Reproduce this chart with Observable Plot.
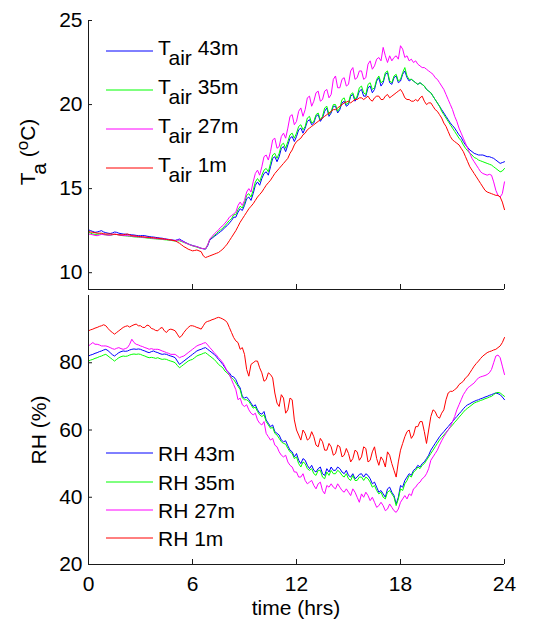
<!DOCTYPE html>
<html>
<head>
<meta charset="utf-8">
<script src="https://cdn.jsdelivr.net/npm/d3@7"></script>
<script src="https://cdn.jsdelivr.net/npm/@observablehq/plot@0.6"></script>
<style>
  html, body { margin: 0; padding: 0; background: #fff; }
  #chart { width: 546px; height: 620px; position: relative; }
  #chart svg { display: block; }
</style>
</head>
<body>
<div id="chart"></div>
<script>
// ---------- data (sampled every 0.125 h, 0..24 h; one row of 8 per hour) ----------
const timeStep = 0.125;
const xTicks = [0, 6, 12, 18, 24];
const tTicks = [10, 15, 20, 25];
const rhTicks = [20, 40, 60, 80];

const seriesNames = ["43m", "35m", "27m", "1m"];
const seriesColors = ["#0000ff", "#00ff00", "#ff00ff", "#ff0000"];

const tair43 = [
12.55,12.5,12.45,12.4,12.42,12.46,12.5,12.42,
12.38,12.35,12.33,12.36,12.42,12.4,12.35,12.32,
12.3,12.29,12.28,12.27,12.25,12.24,12.22,12.2,
12.2,12.21,12.2,12.17,12.15,12.13,12.12,12.1,
12.08,12.06,12.05,12.02,12.0,11.98,11.95,11.94,
11.92,11.96,12.0,11.92,11.85,11.78,11.72,11.66,
11.62,11.58,11.55,11.5,11.45,11.42,11.4,11.6,
11.95,12.05,12.15,12.25,12.35,12.45,12.55,12.7,
12.8,12.95,13.1,13.3,13.3,13.6,13.8,13.7,
14.0,14.4,14.5,14.3,14.7,15.2,15.4,15.2,
15.6,15.9,16.0,15.8,16.3,16.8,16.9,16.6,
16.9,17.4,17.5,17.2,17.6,18.0,18.1,17.8,
18.1,18.5,18.6,18.3,18.6,19.0,19.1,18.8,
18.9,19.3,19.4,19.0,19.2,19.6,19.8,19.3,
19.5,19.9,19.9,19.5,19.7,20.1,20.2,19.9,
20.0,20.5,20.6,20.2,20.4,20.8,20.9,20.5,
20.5,21.0,21.1,20.7,20.9,21.4,21.6,21.1,
21.3,21.8,21.9,21.3,21.2,21.6,21.7,21.3,
21.4,21.8,22.0,21.6,21.4,21.5,21.4,21.3,
21.2,21.3,21.2,21.1,20.9,20.8,20.7,20.5,
20.3,20.1,19.9,19.7,19.5,19.3,19.1,18.9,
18.75,18.6,18.4,18.2,18.05,17.8,17.6,17.45,
17.3,17.2,17.1,17.05,17.0,17.0,17.0,16.95,
16.9,16.9,16.85,16.8,16.7,16.6,16.5,16.55,
16.6];
const tair35 = [
12.4,12.35,12.3,12.28,12.28,12.3,12.3,12.27,
12.25,12.23,12.22,12.25,12.28,12.27,12.25,12.22,
12.2,12.19,12.18,12.16,12.15,12.13,12.12,12.11,
12.1,12.09,12.08,12.06,12.05,12.03,12.02,12.01,
12.0,11.99,11.98,11.96,11.95,11.93,11.92,11.9,
11.88,11.89,11.9,11.85,11.8,11.75,11.7,11.65,
11.6,11.56,11.52,11.48,11.45,11.43,11.42,11.65,
12.0,12.1,12.2,12.32,12.45,12.55,12.65,12.8,
12.95,13.1,13.2,13.45,13.45,13.75,13.95,13.85,
14.15,14.6,14.7,14.5,14.9,15.4,15.6,15.4,
15.8,16.1,16.2,16.0,16.5,17.0,17.1,16.8,
17.1,17.6,17.7,17.4,17.8,18.2,18.3,18.0,
18.3,18.7,18.8,18.5,18.7,19.2,19.3,18.9,
19.0,19.4,19.5,19.1,19.3,19.8,19.9,19.4,
19.6,20.0,20.0,19.6,19.8,20.3,20.4,20.0,
20.1,20.6,20.7,20.3,20.5,21.0,21.1,20.7,
20.6,21.2,21.3,20.9,21.0,21.5,21.7,21.3,
21.4,21.9,22.0,21.4,21.3,21.7,21.8,21.4,
21.5,21.9,22.2,21.7,21.5,21.5,21.4,21.3,
21.2,21.3,21.2,21.1,20.9,20.8,20.7,20.5,
20.3,20.1,19.9,19.6,19.4,19.2,19.0,18.8,
18.6,18.4,18.2,18.0,17.85,17.6,17.4,17.25,
17.1,17.0,16.85,16.8,16.7,16.65,16.6,16.55,
16.5,16.45,16.4,16.3,16.2,16.1,16.0,16.05,
16.2];
const tair27 = [
12.3,12.28,12.25,12.22,12.2,12.24,12.28,12.26,
12.25,12.23,12.22,12.26,12.3,12.28,12.25,12.23,
12.22,12.21,12.2,12.19,12.18,12.16,12.15,12.13,
12.12,12.11,12.1,12.09,12.08,12.06,12.05,12.03,
12.02,12.01,12.0,11.99,11.98,11.96,11.95,11.92,
11.9,11.93,11.95,11.88,11.82,11.76,11.7,11.65,
11.6,11.58,11.55,11.5,11.45,11.43,11.42,11.65,
12.0,12.15,12.3,12.42,12.55,12.7,12.8,12.95,
13.1,13.3,13.4,13.5,13.6,14.0,14.2,14.0,
14.3,14.8,15.0,14.8,15.4,15.9,16.1,15.8,
16.3,16.9,17.0,16.7,17.2,17.9,18.0,17.4,
17.5,18.1,18.3,18.0,18.6,19.3,19.4,18.8,
19.0,19.6,19.8,19.3,19.7,20.4,20.5,19.9,
20.2,20.7,20.8,20.2,20.3,20.8,20.9,20.4,
20.6,21.5,21.7,21.0,21.0,21.5,21.6,21.1,
21.2,22.0,22.2,21.5,21.6,22.0,22.0,21.5,
21.6,22.4,22.6,22.1,22.3,22.7,22.8,22.6,
23.4,22.9,22.5,22.9,22.6,22.8,22.9,22.7,
23.5,23.3,22.8,22.9,22.6,22.7,22.5,22.6,
22.4,22.3,22.2,22.2,22.1,22.0,21.9,21.8,
21.6,21.5,21.3,21.1,20.9,20.6,20.3,20.0,
19.7,19.3,19.0,18.6,18.3,18.0,17.7,17.4,
17.1,16.8,16.6,16.4,16.2,16.0,15.9,15.85,
15.8,15.85,15.8,15.4,14.9,14.6,14.5,14.7,
15.4];
const tair1 = [
12.45,12.42,12.4,12.38,12.35,12.35,12.35,12.32,
12.3,12.3,12.3,12.29,12.28,12.27,12.25,12.25,
12.25,12.28,12.3,12.25,12.2,12.19,12.18,12.16,
12.15,12.14,12.12,12.11,12.1,12.09,12.08,12.06,
12.05,12.03,12.02,12.0,11.98,11.96,11.95,11.92,
11.9,11.82,11.75,11.65,11.55,11.48,11.4,11.35,
11.3,11.32,11.35,11.3,11.25,11.0,10.9,10.95,
11.0,11.05,11.1,11.15,11.2,11.3,11.4,11.55,
11.7,11.9,12.1,12.3,12.5,12.75,13.0,13.2,
13.4,13.6,13.8,13.95,14.1,14.3,14.5,14.65,
14.8,15.0,15.2,15.35,15.5,15.7,15.9,16.05,
16.2,16.35,16.5,16.65,16.8,17.1,17.3,17.6,
17.8,17.9,18.0,18.2,18.3,18.5,18.6,18.7,
18.8,18.9,19.0,19.1,19.2,19.3,19.4,19.5,
19.6,19.7,19.7,19.8,19.9,20.0,20.1,20.15,
20.2,20.1,20.2,20.3,20.3,20.4,20.4,20.3,
20.4,20.5,20.3,20.2,20.4,20.5,20.5,20.3,
20.3,20.5,20.6,20.4,20.5,20.6,20.7,20.8,
20.9,20.7,20.4,20.3,20.3,20.2,20.2,20.3,
20.2,20.4,20.5,20.2,20.0,20.1,20.1,19.9,
19.7,19.6,19.4,19.2,18.9,18.7,18.4,18.1,
17.9,17.8,17.7,17.6,17.4,17.2,16.9,16.6,
16.3,16.1,15.9,15.7,15.5,15.3,15.1,14.9,
14.8,14.75,14.7,14.65,14.6,14.6,14.5,14.2,
13.75];

const rh43 = [
82.0,82.3,82.5,82.8,83.0,83.3,83.5,83.8,
84.0,83.6,83.0,82.4,82.0,82.5,83.0,83.3,
83.5,83.4,83.5,83.8,84.0,84.1,84.0,84.1,
84.0,83.7,83.5,83.2,83.0,83.3,83.5,83.2,
83.0,82.7,82.5,82.6,82.5,82.2,82.0,81.8,
81.5,80.5,79.5,80.0,80.5,81.0,81.5,82.0,
82.5,83.0,83.5,83.8,84.0,84.3,84.5,84.0,
83.5,83.0,82.5,81.8,81.0,80.3,79.5,78.5,
77.5,77.0,76.0,75.8,75.0,73.5,72.5,70.0,
69.5,69.8,69.0,68.0,67.0,67.5,66.0,65.0,
64.7,65.5,63.0,62.0,61.0,61.5,59.5,59.0,
58.5,57.0,56.5,56.8,55.3,54.0,53.5,52.0,
53.0,51.0,50.0,51.5,51.0,49.5,48.5,49.5,
48.0,47.5,48.5,49.0,47.0,46.5,48.5,47.5,
49.0,48.0,48.0,49.0,48.5,47.5,47.0,48.0,
46.5,46.0,47.0,45.5,46.0,46.8,47.0,46.0,
47.0,46.5,45.5,44.0,44.5,43.0,41.5,42.0,
41.0,40.0,42.5,43.0,41.5,40.5,38.0,40.0,
43.5,43.0,45.0,46.0,47.0,46.5,48.0,48.5,
49.5,49.0,50.0,50.5,51.5,52.5,54.0,55.0,
56.0,57.0,58.0,58.8,59.5,60.3,61.0,61.8,
62.5,63.3,64.0,64.8,65.5,66.3,67.0,67.5,
67.8,68.2,68.5,68.8,69.0,69.3,69.5,69.8,
70.0,70.3,70.5,70.8,71.0,70.8,70.5,69.8,
69.0];
const rh35 = [
80.5,80.8,81.0,81.3,81.5,81.8,82.0,82.3,
82.5,82.0,81.5,81.0,80.5,81.0,81.5,81.8,
82.0,81.9,82.0,82.3,82.5,82.6,82.5,82.6,
82.5,82.2,82.0,81.7,81.5,81.6,81.5,81.3,
81.5,81.2,81.0,81.1,81.0,80.7,80.5,80.3,
80.0,79.2,78.5,79.0,79.5,80.0,80.5,80.8,
81.0,81.5,82.0,82.3,82.5,82.8,83.0,82.5,
82.0,81.5,81.0,80.3,79.5,79.0,78.5,77.5,
77.0,76.3,75.5,75.0,74.0,73.0,72.0,69.5,
69.0,69.0,68.5,67.5,66.5,66.8,65.5,64.5,
64.0,64.5,62.5,61.5,60.5,60.8,59.0,58.5,
57.5,56.5,56.0,55.8,54.5,53.5,53.0,51.5,
52.0,50.0,49.0,50.5,50.0,48.5,48.0,48.5,
47.0,46.5,48.0,48.0,46.0,45.5,47.5,46.5,
48.0,47.0,47.0,48.0,47.5,46.5,46.0,47.0,
45.5,45.0,46.5,45.0,45.0,46.0,46.0,45.0,
46.0,45.5,44.5,43.0,43.5,42.0,41.0,41.5,
40.0,39.5,41.5,42.0,41.0,40.0,37.5,39.5,
42.5,42.0,44.0,45.0,46.5,46.0,47.5,48.0,
49.0,48.5,49.5,50.0,51.0,52.0,53.0,54.0,
55.0,56.0,57.0,57.8,58.5,59.3,60.0,60.8,
61.5,62.3,63.0,63.8,64.5,65.3,66.0,66.5,
67.0,67.5,68.0,68.3,68.5,68.8,69.0,69.3,
69.5,69.8,70.0,70.5,71.0,71.2,71.0,70.5,
70.0];
const rh27 = [
85.0,85.5,86.0,85.5,85.5,85.3,85.0,85.0,
85.0,84.8,84.5,84.2,84.0,84.3,84.5,84.2,
84.0,84.2,84.5,85.5,87.0,86.0,85.5,85.3,
85.0,84.8,84.5,84.3,84.0,84.2,84.0,84.0,
84.0,83.8,83.5,83.3,83.0,82.8,82.5,82.5,
82.5,82.0,81.5,81.8,82.0,82.5,83.0,83.5,
84.0,84.5,85.0,85.3,85.5,85.8,86.0,85.3,
84.5,83.8,83.0,82.3,81.5,80.8,80.0,78.8,
77.5,76.5,75.0,73.5,72.0,69.0,69.5,67.5,
67.0,67.5,66.0,65.0,64.5,65.0,63.0,62.0,
61.5,62.5,59.0,58.0,57.0,57.5,55.5,55.0,
53.5,52.5,52.0,52.5,50.5,49.5,49.0,47.5,
47.5,46.0,46.0,47.0,45.0,44.0,44.5,45.0,
43.5,42.5,44.0,44.5,42.0,41.0,43.5,43.0,
44.0,43.0,42.5,44.0,43.0,42.0,41.5,42.5,
41.5,40.5,42.5,41.5,40.0,38.5,41.0,40.0,
41.5,40.5,39.0,40.0,38.5,37.0,37.5,38.5,
37.5,36.0,36.5,38.0,37.0,36.0,35.5,36.5,
38.5,39.5,40.5,39.5,41.0,40.5,42.5,43.0,
44.0,44.5,45.5,46.0,47.0,48.5,51.0,52.0,
53.0,54.0,55.5,56.8,58.0,59.0,60.0,61.0,
62.5,64.0,66.0,67.5,69.0,70.5,71.5,72.5,
73.0,73.5,74.0,74.8,75.5,75.8,76.0,76.2,
76.5,77.0,78.0,80.0,82.0,82.3,81.5,79.0,
76.5];
const rh1 = [
89.5,89.8,90.0,90.3,90.5,90.8,91.0,91.3,
91.0,90.2,89.5,89.0,88.5,89.0,89.5,90.0,
90.5,90.8,91.0,90.6,91.0,91.3,91.5,91.0,
91.0,90.5,90.5,91.2,91.0,90.2,90.0,89.6,
89.5,90.2,90.5,89.5,89.0,89.8,90.0,89.8,
89.5,88.5,87.5,88.0,89.0,89.8,90.5,91.0,
91.0,90.8,90.5,90.3,90.0,91.0,92.0,92.3,
92.5,92.8,93.0,93.3,93.5,93.3,93.0,92.6,
92.0,90.5,89.0,87.5,86.5,86.0,84.0,84.5,
82.5,78.0,76.0,79.5,80.0,80.5,80.5,78.5,
77.0,74.5,75.0,77.0,76.5,75.5,71.0,68.0,
67.0,70.5,69.5,65.0,66.0,69.5,69.0,63.0,
60.0,58.5,57.0,60.0,59.0,57.0,57.5,59.5,
58.0,55.5,55.0,57.5,56.5,54.0,54.0,56.0,
55.0,52.5,53.0,55.5,55.0,52.0,52.5,54.5,
53.0,50.5,51.5,54.0,53.5,51.0,52.0,55.0,
54.5,50.5,51.0,53.5,55.0,51.5,49.5,52.0,
51.0,49.0,53.5,52.5,50.0,48.0,46.0,50.5,
54.0,56.0,58.0,59.5,60.0,57.5,58.5,61.0,
61.0,62.5,62.5,59.5,56.0,60.0,64.0,66.0,
65.5,64.0,63.5,65.0,66.0,69.0,71.0,71.5,
71.5,72.0,72.5,73.5,74.0,74.5,75.5,76.0,
77.0,78.0,79.0,79.8,80.5,81.3,82.0,82.5,
83.0,83.3,83.5,83.8,84.0,84.5,85.0,86.0,
87.5];

const tairSeries = [tair43, tair35, tair27, tair1];
const rhSeries = [rh43, rh35, rh27, rh1];

// ---------- build ----------
const FONT = "'Liberation Sans', Arial, Helvetica, sans-serif";
const AX = "#1a1a1a";
const W = 546, ML = 88, MR = 42;
const plotW = W - ML - MR;

function rows(seriesList) {
  const out = [];
  seriesList.forEach((arr, k) => arr.forEach((v, i) => out.push({t: i * timeStep, v, s: seriesNames[k]})));
  return out;
}

function lineMarks(seriesList) {
  const data = rows(seriesList);
  return seriesNames.map((name, k) =>
    Plot.line(data.filter(d => d.s === name), {x: "t", y: "v", stroke: seriesColors[k], strokeWidth: 1})
  );
}

// Top panel
const topH = 292, topMT = 20, topMB = 3;
const topPlotH = topH - topMT - topMB;
const topSvg = Plot.plot({
  width: W, height: topH,
  marginLeft: ML, marginRight: MR, marginTop: topMT, marginBottom: topMB,
  style: {fontFamily: FONT, background: "#fff", color: "#000", overflow: "visible"},
  x: {domain: [0, 24], axis: null},
  y: {domain: [9, 25], axis: null},
  marks: [
    ...lineMarks(tairSeries),
    Plot.ruleX([0], {stroke: AX}),
    Plot.ruleY([9], {stroke: AX}),
    Plot.tickY(tTicks, {y: d => d, stroke: AX, insetRight: plotW - 4}),
    Plot.tickX(xTicks, {x: d => d, stroke: AX, insetTop: topPlotH - 5}),
    Plot.axisY(tTicks, {anchor: "left", tickSize: 0, tickPadding: 6, fontSize: 21, fill: "#000", label: null})
  ]
});

// Bottom panel
const botH = 328, botMT = 3, botMB = 56;
const botPlotH = botH - botMT - botMB;
const botSvg = Plot.plot({
  width: W, height: botH,
  marginLeft: ML, marginRight: MR, marginTop: botMT, marginBottom: botMB,
  style: {fontFamily: FONT, background: "#fff", color: "#000", overflow: "visible"},
  x: {domain: [0, 24], axis: null},
  y: {domain: [20, 100], axis: null},
  marks: [
    ...lineMarks(rhSeries),
    Plot.ruleX([0], {stroke: AX}),
    Plot.ruleY([20], {stroke: AX}),
    Plot.tickY(rhTicks, {y: d => d, stroke: AX, insetRight: plotW - 4}),
    Plot.tickX(xTicks, {x: d => d, stroke: AX, insetTop: botPlotH - 5}),
    Plot.axisY(rhTicks, {anchor: "left", tickSize: 0, tickPadding: 6, fontSize: 21, fill: "#000", label: null}),
    Plot.axisX(xTicks, {anchor: "bottom", tickSize: 0, tickPadding: 12, fontSize: 21, fill: "#000", label: null})
  ]
});

const chart = document.getElementById("chart");
chart.appendChild(topSvg);
chart.appendChild(botSvg);

// ---------- labels & legends ----------
function txt(svg, anchor) {
  return d3.select(svg).append("text")
    .attr("font-family", FONT).attr("font-size", 21).attr("fill", "#000")
    .attr("text-anchor", anchor);
}

// Y label top: T_a (°C)
{
  const t = txt(topSvg, "middle").attr("transform", "translate(35,152) rotate(-90)");
  t.append("tspan").text("T");
  t.append("tspan").attr("dy", 11).text("a");
  t.append("tspan").attr("dy", -11).text(" (");
  t.append("tspan").attr("dy", -7).attr("font-size", 17).text("o");
  t.append("tspan").attr("dy", 7).text("C)");
}
// Y label bottom: RH (%)
txt(botSvg, "middle").attr("transform", `translate(46,${430 - 292}) rotate(-90)`).text("RH (%)");
// X label
txt(botSvg, "middle").attr("x", 296).attr("y", 615 - 292).text("time (hrs)");

// Top legend
[51, 90, 129, 168].forEach((y, k) => {
  d3.select(topSvg).append("line").attr("x1", 106).attr("x2", 153).attr("y1", y).attr("y2", y)
    .attr("stroke", seriesColors[k]).attr("stroke-width", 1);
  const t = txt(topSvg, "start").attr("x", 158).attr("y", y + 4);
  t.append("tspan").text("T");
  t.append("tspan").attr("dy", 10).text("air");
  t.append("tspan").attr("dy", -10).text("\u00a0" + seriesNames[k]);
});

// Bottom legend
[453, 482, 510, 538].forEach((yy, k) => {
  const y = yy - 292;
  d3.select(botSvg).append("line").attr("x1", 106).attr("x2", 153).attr("y1", y).attr("y2", y)
    .attr("stroke", seriesColors[k]).attr("stroke-width", 1);
  txt(botSvg, "start").attr("x", 158).attr("y", y + 7.5).text("RH " + seriesNames[k]);
});
</script>
</body>
</html>
